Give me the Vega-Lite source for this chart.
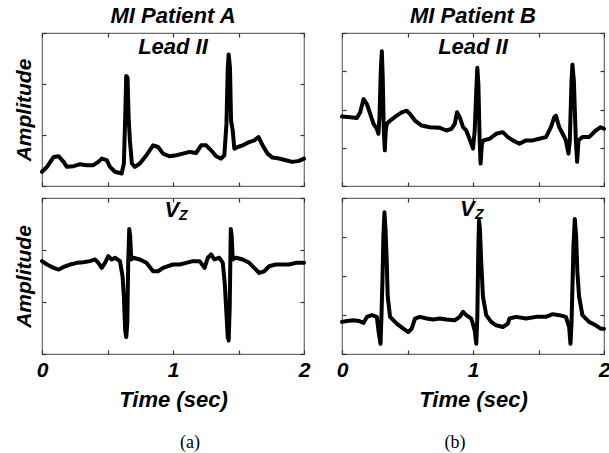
{
  "$schema": "https://vega.github.io/schema/vega-lite/v6.json",
  "padding": {"left": 12, "top": 4, "right": 0, "bottom": 2},
  "datasets": {
    "leadA": [
      {"t":0.000,"v":0.279},{"t":0.038,"v":0.376},{"t":0.089,"v":0.570},{"t":0.127,"v":0.583},{"t":0.165,"v":0.473},{"t":0.190,"v":0.376},{"t":0.241,"v":0.389},{"t":0.291,"v":0.428},{"t":0.342,"v":0.408},{"t":0.392,"v":0.408},{"t":0.430,"v":0.473},{"t":0.456,"v":0.538},{"t":0.494,"v":0.506},{"t":0.519,"v":0.376},{"t":0.557,"v":0.279},{"t":0.608,"v":0.246},{"t":0.625,"v":0.441},{"t":0.635,"v":1.348},{"t":0.643,"v":2.158},{"t":0.653,"v":2.126},{"t":0.661,"v":1.348},{"t":0.671,"v":0.894},{"t":0.686,"v":0.441},{"t":0.709,"v":0.376},{"t":0.747,"v":0.441},{"t":0.797,"v":0.603},{"t":0.848,"v":0.797},{"t":0.886,"v":0.765},{"t":0.924,"v":0.635},{"t":0.975,"v":0.583},{"t":1.025,"v":0.603},{"t":1.076,"v":0.635},{"t":1.127,"v":0.668},{"t":1.177,"v":0.648},{"t":1.215,"v":0.797},{"t":1.253,"v":0.797},{"t":1.291,"v":0.700},{"t":1.329,"v":0.583},{"t":1.367,"v":0.538},{"t":1.392,"v":0.603},{"t":1.408,"v":1.218},{"t":1.418,"v":2.320},{"t":1.425,"v":2.579},{"t":1.435,"v":2.320},{"t":1.443,"v":1.283},{"t":1.456,"v":1.089},{"t":1.468,"v":0.732},{"t":1.494,"v":0.765},{"t":1.532,"v":0.797},{"t":1.582,"v":0.862},{"t":1.620,"v":0.894},{"t":1.653,"v":0.959},{"t":1.684,"v":0.797},{"t":1.722,"v":0.635},{"t":1.759,"v":0.557},{"t":1.810,"v":0.538},{"t":1.861,"v":0.506},{"t":1.911,"v":0.473},{"t":1.962,"v":0.493},{"t":2.000,"v":0.538}
    ],
    "leadB": [
      {"t":0.000,"v":1.814},{"t":0.063,"v":1.797},{"t":0.114,"v":1.780},{"t":0.139,"v":1.927},{"t":0.165,"v":2.272},{"t":0.190,"v":2.143},{"t":0.215,"v":1.883},{"t":0.241,"v":1.624},{"t":0.266,"v":1.495},{"t":0.278,"v":1.365},{"t":0.286,"v":1.797},{"t":0.296,"v":3.006},{"t":0.304,"v":3.525},{"t":0.311,"v":2.834},{"t":0.319,"v":1.451},{"t":0.327,"v":0.933},{"t":0.334,"v":1.451},{"t":0.342,"v":1.624},{"t":0.367,"v":1.711},{"t":0.418,"v":1.840},{"t":0.456,"v":1.927},{"t":0.494,"v":1.970},{"t":0.519,"v":1.883},{"t":0.557,"v":1.711},{"t":0.608,"v":1.581},{"t":0.671,"v":1.538},{"t":0.747,"v":1.521},{"t":0.797,"v":1.451},{"t":0.835,"v":1.495},{"t":0.861,"v":1.624},{"t":0.878,"v":1.927},{"t":0.899,"v":1.797},{"t":0.924,"v":1.538},{"t":0.949,"v":1.451},{"t":0.987,"v":1.106},{"t":1.000,"v":0.976},{"t":1.013,"v":1.451},{"t":1.025,"v":2.488},{"t":1.033,"v":3.093},{"t":1.041,"v":2.661},{"t":1.051,"v":1.192},{"t":1.058,"v":0.587},{"t":1.068,"v":1.106},{"t":1.081,"v":1.192},{"t":1.127,"v":1.235},{"t":1.177,"v":1.365},{"t":1.228,"v":1.408},{"t":1.266,"v":1.279},{"t":1.304,"v":1.192},{"t":1.354,"v":1.106},{"t":1.405,"v":1.192},{"t":1.456,"v":1.192},{"t":1.506,"v":1.235},{"t":1.557,"v":1.279},{"t":1.595,"v":1.538},{"t":1.620,"v":1.797},{"t":1.633,"v":1.840},{"t":1.658,"v":1.538},{"t":1.684,"v":1.365},{"t":1.709,"v":1.192},{"t":1.729,"v":0.847},{"t":1.739,"v":1.192},{"t":1.752,"v":2.747},{"t":1.759,"v":3.179},{"t":1.770,"v":2.747},{"t":1.785,"v":1.192},{"t":1.795,"v":0.631},{"t":1.805,"v":1.192},{"t":1.835,"v":1.279},{"t":1.886,"v":1.279},{"t":1.937,"v":1.451},{"t":1.975,"v":1.538},{"t":2.000,"v":1.495}
    ],
    "vzA": [
      {"t":0.000,"v":1.786},{"t":0.038,"v":1.721},{"t":0.089,"v":1.656},{"t":0.127,"v":1.623},{"t":0.165,"v":1.675},{"t":0.215,"v":1.721},{"t":0.266,"v":1.753},{"t":0.316,"v":1.766},{"t":0.367,"v":1.786},{"t":0.405,"v":1.818},{"t":0.430,"v":1.753},{"t":0.456,"v":1.656},{"t":0.481,"v":1.753},{"t":0.506,"v":1.883},{"t":0.532,"v":1.818},{"t":0.557,"v":1.851},{"t":0.595,"v":1.786},{"t":0.615,"v":1.494},{"t":0.625,"v":1.104},{"t":0.635,"v":0.455},{"t":0.643,"v":0.325},{"t":0.651,"v":0.584},{"t":0.658,"v":1.753},{"t":0.666,"v":2.403},{"t":0.673,"v":2.273},{"t":0.681,"v":1.818},{"t":0.696,"v":1.851},{"t":0.747,"v":1.818},{"t":0.797,"v":1.753},{"t":0.848,"v":1.591},{"t":0.886,"v":1.591},{"t":0.924,"v":1.656},{"t":0.962,"v":1.688},{"t":1.000,"v":1.721},{"t":1.051,"v":1.721},{"t":1.101,"v":1.753},{"t":1.152,"v":1.786},{"t":1.203,"v":1.786},{"t":1.241,"v":1.656},{"t":1.266,"v":1.851},{"t":1.291,"v":1.916},{"t":1.316,"v":1.818},{"t":1.354,"v":1.851},{"t":1.380,"v":1.753},{"t":1.395,"v":1.364},{"t":1.405,"v":0.909},{"t":1.418,"v":0.325},{"t":1.425,"v":0.260},{"t":1.433,"v":0.909},{"t":1.441,"v":2.403},{"t":1.448,"v":2.273},{"t":1.456,"v":1.818},{"t":1.481,"v":1.851},{"t":1.532,"v":1.818},{"t":1.582,"v":1.753},{"t":1.620,"v":1.656},{"t":1.658,"v":1.558},{"t":1.696,"v":1.591},{"t":1.734,"v":1.688},{"t":1.785,"v":1.721},{"t":1.835,"v":1.721},{"t":1.886,"v":1.721},{"t":1.937,"v":1.753},{"t":2.000,"v":1.753}
    ],
    "vzB": [
      {"t":0.000,"v":0.823},{"t":0.038,"v":0.848},{"t":0.089,"v":0.866},{"t":0.127,"v":0.848},{"t":0.165,"v":0.797},{"t":0.190,"v":0.952},{"t":0.228,"v":0.996},{"t":0.266,"v":0.952},{"t":0.278,"v":0.606},{"t":0.286,"v":0.433},{"t":0.294,"v":0.260},{"t":0.301,"v":0.952},{"t":0.309,"v":1.905},{"t":0.316,"v":3.030},{"t":0.324,"v":3.636},{"t":0.332,"v":3.203},{"t":0.342,"v":2.338},{"t":0.349,"v":1.472},{"t":0.367,"v":0.952},{"t":0.418,"v":0.779},{"t":0.468,"v":0.649},{"t":0.506,"v":0.563},{"t":0.532,"v":0.649},{"t":0.557,"v":0.909},{"t":0.595,"v":0.952},{"t":0.646,"v":0.909},{"t":0.696,"v":0.883},{"t":0.747,"v":0.909},{"t":0.797,"v":0.883},{"t":0.861,"v":0.866},{"t":0.899,"v":0.952},{"t":0.924,"v":1.082},{"t":0.949,"v":0.996},{"t":0.987,"v":0.909},{"t":1.013,"v":0.606},{"t":1.025,"v":0.260},{"t":1.033,"v":0.952},{"t":1.041,"v":2.771},{"t":1.046,"v":3.420},{"t":1.053,"v":3.203},{"t":1.063,"v":2.338},{"t":1.076,"v":1.472},{"t":1.101,"v":0.996},{"t":1.139,"v":0.823},{"t":1.177,"v":0.736},{"t":1.228,"v":0.693},{"t":1.266,"v":0.779},{"t":1.278,"v":0.909},{"t":1.329,"v":0.952},{"t":1.405,"v":0.909},{"t":1.481,"v":0.952},{"t":1.557,"v":0.952},{"t":1.608,"v":1.022},{"t":1.658,"v":0.996},{"t":1.709,"v":0.952},{"t":1.734,"v":0.693},{"t":1.744,"v":0.260},{"t":1.752,"v":0.779},{"t":1.767,"v":2.771},{"t":1.777,"v":3.463},{"t":1.787,"v":3.030},{"t":1.797,"v":2.078},{"t":1.810,"v":1.472},{"t":1.835,"v":0.996},{"t":1.886,"v":0.823},{"t":1.937,"v":0.736},{"t":1.975,"v":0.649},{"t":2.000,"v":0.649}
    ]
  },
  "config": {
    "font": "Liberation Sans",
    "view": {"stroke": "#6b6b6b", "strokeWidth": 1.2},
    "title": {"font": "Liberation Sans", "fontSize": 22, "fontWeight": "bold", "fontStyle": "italic", "color": "#000", "anchor": "middle", "offset": 4},
    "axis": {"grid": false, "domain": false, "ticks": true, "tickColor": "#333", "tickSize": -4, "tickWidth": 1.2, "labelFont": "Liberation Sans", "labelFontSize": 21, "labelFontWeight": "bold", "labelFontStyle": "italic", "labelColor": "#000", "labelFlush": false, "labelOverlap": false, "labelPadding": 9, "titleFont": "Liberation Sans", "titleFontSize": 21, "titleFontWeight": "bold", "titleFontStyle": "italic", "titleColor": "#000"},
    "axisX": {"titlePadding": 9, "titleFontSize": 22},
    "axisY": {"titlePadding": 7},
    "line": {"color": "#000", "strokeWidth": 4, "strokeJoin": "round", "strokeCap": "round"},
    "text": {"font": "Liberation Sans", "fontSize": 22, "fontWeight": "bold", "fontStyle": "italic", "color": "#000", "baseline": "alphabetic"}
  },
  "columns": 2,
  "spacing": {"row": 12, "column": 38},
  "bounds": "flush",
  "concat": [
    {
      "width": 262, "height": 153,
      "title": {"text": "MI Patient A"},
      "layer": [
        {"data": {"name": "leadA"}, "mark": {"type": "line"},
         "encoding": {
           "x": {"field": "t", "type": "quantitative", "scale": {"domain": [0, 2], "nice": false}, "axis": {"orient": "bottom", "values": [0, 0.5, 1, 1.5, 2], "labels": false, "title": null}},
           "y": {"field": "v", "type": "quantitative", "scale": {"domain": [0, 3], "nice": false}, "axis": {"orient": "left", "values": [0, 1, 2, 3], "labels": false, "title": "Amplitude"}}
         }},
        {"data": {"values": [{"t": 1.0, "v": 2.58, "label": "Lead II"}]}, "mark": {"type": "text", "align": "center"},
         "encoding": {
           "x": {"field": "t", "type": "quantitative", "axis": {"orient": "top", "values": [0, 0.5, 1, 1.5, 2], "labels": false, "title": null}},
           "y": {"field": "v", "type": "quantitative", "axis": {"orient": "right", "values": [0, 1, 2, 3], "labels": false, "title": null}},
           "text": {"field": "label"}
         }}
      ],
      "resolve": {"axis": {"x": "independent", "y": "independent"}}
    },
    {
      "width": 262, "height": 153,
      "title": {"text": "MI Patient B"},
      "layer": [
        {"data": {"name": "leadB"}, "mark": {"type": "line"},
         "encoding": {
           "x": {"field": "t", "type": "quantitative", "scale": {"domain": [0, 2], "nice": false}, "axis": {"orient": "bottom", "values": [0, 0.5, 1, 1.5, 2], "labels": false, "title": null}},
           "y": {"field": "v", "type": "quantitative", "scale": {"domain": [0, 4], "nice": false}, "axis": {"orient": "left", "values": [0, 1, 2, 3, 4], "labels": false, "title": null}}
         }},
        {"data": {"values": [{"t": 1.0, "v": 3.44, "label": "Lead II"}]}, "mark": {"type": "text", "align": "center"},
         "encoding": {
           "x": {"field": "t", "type": "quantitative", "axis": {"orient": "top", "values": [0, 0.5, 1, 1.5, 2], "labels": false, "title": null}},
           "y": {"field": "v", "type": "quantitative", "axis": {"orient": "right", "values": [0, 1, 2, 3, 4], "labels": false, "title": null}},
           "text": {"field": "label"}
         }}
      ],
      "resolve": {"axis": {"x": "independent", "y": "independent"}}
    },
    {
      "width": 262, "height": 156,
      "title": {"text": "(a)", "orient": "bottom", "font": "Liberation Serif", "fontSize": 18, "fontWeight": "normal", "fontStyle": "normal", "offset": 24, "dx": 17},
      "layer": [
        {"data": {"name": "vzA"}, "mark": {"type": "line"},
         "encoding": {
           "x": {"field": "t", "type": "quantitative", "scale": {"domain": [0, 2], "nice": false}, "axis": {"orient": "bottom", "values": [0, 0.5, 1, 1.5, 2], "labelExpr": "datum.value % 1 == 0 ? '' + datum.value : ''", "title": "Time (sec)"}},
           "y": {"field": "v", "type": "quantitative", "scale": {"domain": [0, 3], "nice": false}, "axis": {"orient": "left", "values": [0, 1, 2, 3], "labels": false, "title": "Amplitude"}}
         }},
        {"data": {"values": [{"t": 0.935, "v": 2.63, "label": "V"}]}, "mark": {"type": "text", "align": "left"},
         "encoding": {
           "x": {"field": "t", "type": "quantitative", "axis": {"orient": "top", "values": [0, 0.5, 1, 1.5, 2], "labels": false, "title": null}},
           "y": {"field": "v", "type": "quantitative", "axis": {"orient": "right", "values": [0, 1, 2, 3], "labels": false, "title": null}},
           "text": {"field": "label"}
         }},
        {"data": {"values": [{"t": 1.045, "v": 2.57, "label": "Z"}]}, "mark": {"type": "text", "align": "left", "fontSize": 14},
         "encoding": {
           "x": {"field": "t", "type": "quantitative", "axis": null},
           "y": {"field": "v", "type": "quantitative", "axis": null},
           "text": {"field": "label"}
         }}
      ],
      "resolve": {"axis": {"x": "independent", "y": "independent"}}
    },
    {
      "width": 262, "height": 156,
      "title": {"text": "(b)", "orient": "bottom", "font": "Liberation Serif", "fontSize": 18, "fontWeight": "normal", "fontStyle": "normal", "offset": 24, "dx": -18},
      "layer": [
        {"data": {"name": "vzB"}, "mark": {"type": "line"},
         "encoding": {
           "x": {"field": "t", "type": "quantitative", "scale": {"domain": [0, 2], "nice": false}, "axis": {"orient": "bottom", "values": [0, 0.5, 1, 1.5, 2], "labelExpr": "datum.value % 1 == 0 ? '' + datum.value : ''", "title": "Time (sec)"}},
           "y": {"field": "v", "type": "quantitative", "scale": {"domain": [0, 4], "nice": false}, "axis": {"orient": "left", "values": [0, 1, 2, 3, 4], "labels": false, "title": null}}
         }},
        {"data": {"values": [{"t": 0.90, "v": 3.53, "label": "V"}]}, "mark": {"type": "text", "align": "left"},
         "encoding": {
           "x": {"field": "t", "type": "quantitative", "axis": {"orient": "top", "values": [0, 0.5, 1, 1.5, 2], "labels": false, "title": null}},
           "y": {"field": "v", "type": "quantitative", "axis": {"orient": "right", "values": [0, 1, 2, 3, 4], "labels": false, "title": null}},
           "text": {"field": "label"}
         }},
        {"data": {"values": [{"t": 1.015, "v": 3.45, "label": "Z"}]}, "mark": {"type": "text", "align": "left", "fontSize": 14},
         "encoding": {
           "x": {"field": "t", "type": "quantitative", "axis": null},
           "y": {"field": "v", "type": "quantitative", "axis": null},
           "text": {"field": "label"}
         }}
      ],
      "resolve": {"axis": {"x": "independent", "y": "independent"}}
    }
  ]
}
